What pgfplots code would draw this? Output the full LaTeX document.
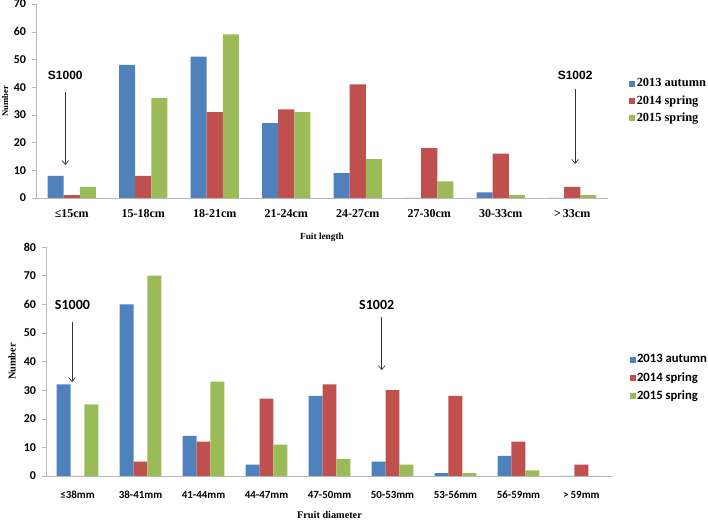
\documentclass[border=0pt]{standalone}
\usepackage{fontspec}
\setmainfont{Liberation Serif}
\newfontfamily\carlito{Carlito}
\newfontfamily\arial{Liberation Sans}
\newfontfamily\timesb{Liberation Serif Bold}
\usepackage{pgfplots}
\pgfplotsset{compat=1.18}
\usetikzlibrary{arrows.meta}
\definecolor{cA}{HTML}{4F81BD}
\definecolor{cB}{HTML}{C0504D}
\definecolor{cC}{HTML}{9BBB59}
\pgfplotsset{
  mybase/.style={
    scale only axis,
    ybar=0pt,
    ymin=0,
    axis x line*=bottom, axis y line*=left,
    x axis line style={gray!55,-},
    y axis line style={gray!55,-},
    xtick style={draw=none},
    ytick style={gray!55},
    tick align=outside, major tick length=3pt,
    /pgf/number format/assume math mode=true,
    yticklabel style={font=\carlito\bfseries\fontsize{9}{10}\selectfont, xshift=-1pt},
    legend cell align=left,
    legend image code/.code={\fill[##1] (0pt,-2.25pt) rectangle (4.5pt,2.25pt);},
  }
}
\begin{document}
\begin{tikzpicture}
\path[use as bounding box] (0,0) rectangle (531pt,390.75pt);
% ---------- top panel ----------
\begin{axis}[mybase,
  at={(27pt,242.25pt)}, anchor=south west,
  width=429pt, height=145.5pt,
  bar width=0.224,
  xmin=-0.5, xmax=7.5, ymax=70, ytick={0,10,...,70},
  xtick={0,...,7},
  xticklabels={≤15cm,15-18cm,18-21cm,21-24cm,24-27cm,27-30cm,30-33cm,>\,33cm},
  xticklabel style={font=\rmfamily\bfseries\fontsize{9}{10}\selectfont, yshift=-2pt},
  ylabel={Number},
  ylabel style={font=\rmfamily\bfseries\fontsize{6.5}{7}\selectfont, at={(axis description cs:-0.054,0.5)}, anchor=center},
  xlabel={Fuit length},
  xlabel style={font=\rmfamily\bfseries\fontsize{7}{8}\selectfont, at={(axis description cs:0.5,-0.205)}, anchor=center},
  legend style={at={(1.03,0.5)}, anchor=west, draw=none, fill=none,
    font=\fontsize{9.3}{10}\selectfont\timesb, row sep=3pt,
    nodes={inner sep=1pt}},
]
\addplot[fill=cA, draw=none] coordinates {(0,8) (1,48) (2,51) (3,27) (4,9) (5,0) (6,2) (7,0)};
\addplot[fill=cB, draw=none] coordinates {(0,1) (1,8) (2,31) (3,32) (4,41) (5,18) (6,16) (7,4)};
\addplot[fill=cC, draw=none] coordinates {(0,4) (1,36) (2,59) (3,31) (4,14) (5,6) (6,1) (7,1)};
\legend{2013 autumn,2014 spring,2015 spring}
\draw[-{Straight Barb[length=3pt,width=5pt]}, black!80, line width=0.5pt] (axis cs:-0.09,38.2) -- (axis cs:-0.09,11.9);
\node[font=\arial\bfseries\fontsize{9}{10}\selectfont] at (axis cs:-0.09,44.4) {S1000};
\draw[-{Straight Barb[length=3pt,width=5pt]}, black!80, line width=0.5pt] (axis cs:7.04,39.3) -- (axis cs:7.04,12.3);
\node[font=\arial\bfseries\fontsize{9}{10}\selectfont] at (axis cs:7.04,44.4) {S1002};
\end{axis}
% ---------- bottom panel ----------
\begin{axis}[mybase,
  at={(34.5pt,33.75pt)}, anchor=south west,
  width=425.25pt, height=171.75pt,
  bar width=0.222,
  xmin=-0.5, xmax=8.5, ymax=80, ytick={0,10,...,80},
  xtick={0,...,8},
  xticklabels={≤38mm,38-41mm,41-44mm,44-47mm,47-50mm,50-53mm,53-56mm,56-59mm,>\,59mm},
  xticklabel style={font=\carlito\bfseries\fontsize{8.2}{9}\selectfont, yshift=-5pt},
  ylabel={Number},
  ylabel style={font=\rmfamily\bfseries\fontsize{7.8}{8}\selectfont, at={(axis description cs:-0.06,0.5)}, anchor=center},
  xlabel={Fruit diameter},
  xlabel style={font=\rmfamily\bfseries\fontsize{7.7}{8}\selectfont, at={(axis description cs:0.5,-0.17)}, anchor=center},
  legend style={at={(1.022,0.428)}, anchor=west, draw=none, fill=none,
    font=\carlito\bfseries\fontsize{9.5}{11}\selectfont, row sep=3.5pt,
    nodes={inner sep=1pt}},
]
\addplot[fill=cA, draw=none] coordinates {(0,32) (1,60) (2,14) (3,4) (4,28) (5,5) (6,1) (7,7) (8,0)};
\addplot[fill=cB, draw=none] coordinates {(0,0) (1,5) (2,12) (3,27) (4,32) (5,30) (6,28) (7,12) (8,4)};
\addplot[fill=cC, draw=none] coordinates {(0,25) (1,70) (2,33) (3,11) (4,6) (5,4) (6,1) (7,2) (8,0)};
\legend{2013 autumn,2014 spring,2015 spring}
\draw[-{Straight Barb[length=3pt,width=5pt]}, black!80, line width=0.5pt] (axis cs:-0.087,53.8) -- (axis cs:-0.087,32.8);
\node[font=\carlito\bfseries\fontsize{10.5}{12}\selectfont] at (axis cs:-0.08,59.7) {S1000};
\draw[-{Straight Barb[length=3pt,width=5pt]}, black!80, line width=0.5pt] (axis cs:4.83,55.5) -- (axis cs:4.83,37.0);
\node[font=\carlito\bfseries\fontsize{10.5}{12}\selectfont] at (axis cs:4.75,59.7) {S1002};
\end{axis}
\end{tikzpicture}
\end{document}
